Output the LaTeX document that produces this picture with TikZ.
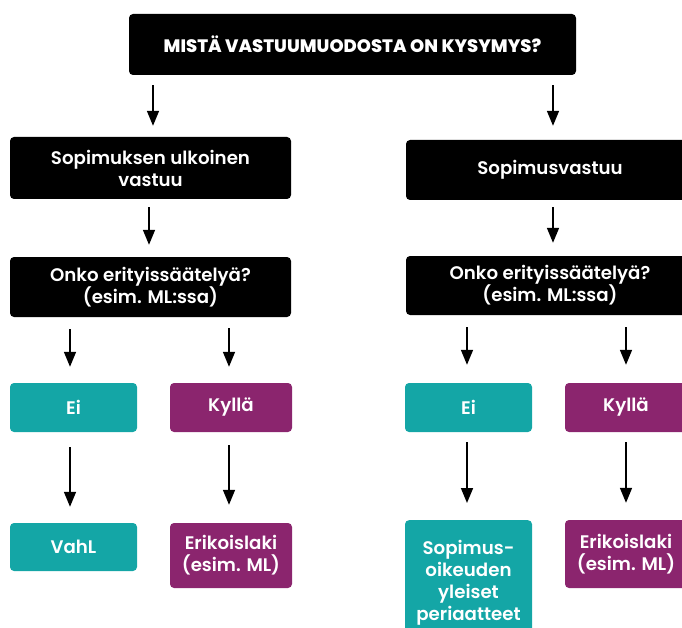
\documentclass[tikz,border=0pt]{standalone}
\usepackage{fontspec}
\setmainfont{Poppins}[BoldFont={* SemiBold}]
\newfontfamily\heavyfont{Poppins}[UprightFont={* ExtraBold}]
\usetikzlibrary{arrows.meta}
\definecolor{teal}{HTML}{14A6A6}
\definecolor{plum}{HTML}{8B256E}
\begin{document}
\begin{tikzpicture}[x=1pt,y=-1pt,
  box/.style={rounded corners=4pt, inner sep=0pt, text=white, align=center,
    font=\bfseries\fontsize{18.2}{22}\selectfont},
  dark/.style={box, fill=black},
  yes/.style={box, fill=plum},
  no/.style={box, fill=teal},
  arr/.style={line width=1.6pt, -{Triangle[length=15pt,width=12pt]}}]
\useasboundingbox (0,0) rectangle (682,628);

% question at the top
\node[dark, minimum width=447pt, minimum height=61pt,
  font=\heavyfont\fontsize{18}{22}\selectfont] (top) at (352.5,44.5) {MISTÄ VASTUUMUODOSTA ON KYSYMYS?};

% left branch
\node[dark, minimum width=281pt, minimum height=62pt] (a1) at (150.5,168) {Sopimuksen ulkoinen\\vastuu};
\node[dark, minimum width=281pt, minimum height=60pt] (b1) at (150.5,287) {Onko erityissäätelyä?\\(esim. ML:ssa)};
\node[no,  minimum width=127pt, minimum height=49pt] (n1) at (73.5,407.5) {Ei};
\node[yes, minimum width=122pt, minimum height=49pt] (y1) at (231,407.5) {Kyllä};
\node[no,  minimum width=127pt, minimum height=48pt] (v1) at (73.5,547) {VahL};
\node[yes, minimum width=122pt, minimum height=65pt] (e1) at (231,555.5) {Erikoislaki\\(esim. ML)};

% right branch
\node[dark, minimum width=288pt, minimum height=60pt] (a2) at (550,170) {Sopimusvastuu};
\node[dark, minimum width=288pt, minimum height=59pt] (b2) at (550,285.5) {Onko erityissäätelyä?\\(esim. ML:ssa)};
\node[no,  minimum width=127pt, minimum height=49pt] (n2) at (468.5,407.5) {Ei};
\node[yes, minimum width=122pt, minimum height=49pt] (y2) at (626,407.5) {Kyllä};
\node[no,  minimum width=127pt, minimum height=126pt, anchor=north] (s2) at (468.5,520) {Sopimus-\\oikeuden\\yleiset\\periaatteet};
\node[yes, minimum width=122pt, minimum height=68pt] (e2) at (626,554) {Erikoislaki\\(esim. ML)};

% arrows
\draw[arr, shorten <=10pt, shorten >=11pt] ([xshift=2.5pt]a1.north |- top.south) -- ([xshift=2.5pt]a1.north);
\draw[arr, shorten <=10pt, shorten >=14pt] ([xshift=3pt]a2.north |- top.south) -- ([xshift=3pt]a2.north);
\draw[arr, shorten <=8pt, shorten >=12pt] ([xshift=-1.5pt]a1.south) -- ([xshift=-1.5pt]b1.north);
\draw[arr, shorten <=7pt, shorten >=13pt] ([xshift=3pt]a2.south) -- ([xshift=3pt]b2.north);
\draw[arr, shorten <=12pt, shorten >=16pt] ([xshift=-3.5pt]n1.north |- b1.south) -- ([xshift=-3.5pt]n1.north);
\draw[arr, shorten <=11pt, shorten >=16pt] ([xshift=-2pt]y1.north |- b1.south) -- ([xshift=-2pt]y1.north);
\draw[arr, shorten <=12pt, shorten >=18pt] ([xshift=-1.5pt]n2.north |- b2.south) -- ([xshift=-1.5pt]n2.north);
\draw[arr, shorten <=12pt, shorten >=18pt] (y2.north |- b2.south) -- (y2.north);
\draw[arr, shorten <=15pt, shorten >=16pt] ([xshift=-3.5pt]n1.south) -- ([xshift=-3.5pt]v1.north);
\draw[arr, shorten <=13pt, shorten >=18pt] ([xshift=-2pt]y1.south) -- ([xshift=-2pt]e1.north);
\draw[arr, shorten <=10pt, shorten >=17pt] ([xshift=-1.5pt]n2.south) -- ([xshift=-1.5pt]s2.north);
\draw[arr, shorten <=10pt, shorten >=17pt] (y2.south) -- (e2.north);
\end{tikzpicture}
\end{document}
